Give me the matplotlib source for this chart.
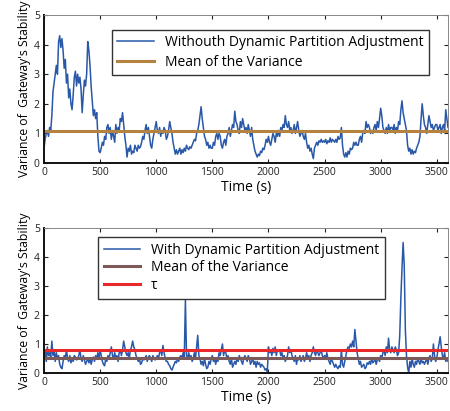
import numpy as np
import matplotlib
matplotlib.use("Agg")
import matplotlib.pyplot as plt

plt.rcParams['font.family'] = ['Open Sans', 'DejaVu Sans']

# sample times (s), one sample every 10 s
time_s = np.arange(0, 3601, 10)

# variance without dynamic partition adjustment
var_without = [
    0.5, 0.8, 1.0, 1.1, 0.9, 1.2, 1.1, 1.6, 2.4, 2.7,
    3.0, 3.3, 3.0, 4.1, 4.3, 3.9, 4.2, 3.8, 3.2, 3.5,
    2.7, 3.0, 2.2, 2.5, 2.0, 1.8, 2.3, 2.9, 3.1, 2.6,
    3.0, 2.7, 2.9, 2.5, 1.7, 2.3, 2.8, 2.6, 3.0, 4.1,
    3.8, 3.3, 2.6, 2.1, 1.6, 1.8, 1.5, 1.7, 0.9, 0.4,
    0.35, 0.5, 0.7, 0.6, 0.9, 0.8, 1.2, 1.3, 1.0, 1.2,
    0.8, 1.1, 0.9, 0.7, 1.3, 1.0, 1.2, 1.1, 1.5, 1.4,
    1.7, 1.3, 0.9, 0.6, 0.2, 0.5, 0.4, 0.6, 0.3, 0.4,
    0.35, 0.6, 0.5, 0.4, 0.6, 0.5, 0.55, 0.7, 0.9, 0.8,
    1.1, 1.3, 1.0, 1.2, 0.9, 0.6, 0.5, 0.8, 1.0, 1.2,
    1.4, 1.1, 1.0, 1.2, 0.9, 1.1, 1.0, 1.2, 1.1, 0.8,
    0.9, 1.1, 1.4, 1.2, 1.0, 0.7, 0.5, 0.3, 0.45, 0.3,
    0.4, 0.5, 0.3, 0.45, 0.35, 0.5, 0.4, 0.6, 0.5, 0.45,
    0.55, 0.5, 0.6, 0.7, 0.8, 0.75, 1.0, 1.1, 1.3, 1.6,
    1.9, 1.5, 1.2, 0.9, 0.8, 0.6, 0.7, 0.5, 0.6, 0.5,
    0.5, 0.7, 0.6, 0.9, 1.0, 0.8, 1.0, 0.9, 0.6, 0.5,
    0.7, 0.8, 0.6, 0.9, 1.0, 1.2, 0.9, 1.1, 1.3, 1.2,
    1.75, 1.4, 1.3, 1.1, 1.0, 1.4, 1.2, 1.5, 1.3, 1.1,
    1.2, 1.0, 1.3, 1.1, 0.9, 1.2, 0.8, 0.6, 0.4, 0.3,
    0.2, 0.3, 0.25, 0.4, 0.35, 0.5, 0.45, 0.6, 0.8, 0.7,
    0.9, 0.7, 0.6, 0.8, 1.0, 0.9, 0.7, 1.0, 0.9, 1.1,
    0.9, 1.2, 1.1, 1.3, 1.2, 1.6, 1.3, 1.2, 1.4, 1.1,
    1.2, 1.0, 1.1, 1.3, 1.0, 1.2, 1.4, 1.1, 0.9, 1.0,
    1.1, 0.9, 0.8, 1.0, 0.7, 0.5, 0.6, 0.4, 0.5, 0.3,
    0.15, 0.5, 0.6, 0.7, 0.6, 0.75, 0.7, 0.8, 0.7, 0.75,
    0.7, 0.8, 0.65, 0.75, 0.7, 0.85, 0.7, 0.8, 0.75, 0.7,
    0.8, 0.7, 0.9, 0.8, 0.85, 1.2, 0.6, 0.3, 0.2, 0.35,
    0.2, 0.4, 0.3, 0.5, 0.45, 0.5, 0.7, 0.6, 0.7, 0.6,
    0.6, 0.8, 0.9, 0.7, 1.0, 1.1, 1.0, 1.4, 1.2, 1.3,
    1.2, 1.0, 1.1, 1.0, 1.2, 1.3, 1.1, 1.4, 1.2, 1.5,
    1.85, 1.6, 1.2, 1.1, 1.0, 1.2, 1.0, 1.3, 1.1, 1.2,
    1.2, 1.1, 1.3, 1.0, 1.2, 1.1, 1.4, 1.3, 1.8, 2.1,
    1.7, 1.5, 1.3, 1.1, 0.6, 0.4, 0.5, 0.3, 0.45, 0.3,
    0.4, 0.35, 0.5, 0.6, 0.7, 0.9, 1.5, 2.0, 1.6, 1.3,
    1.2, 1.0, 1.3, 1.6, 1.4, 1.2, 1.3, 1.1, 1.2, 1.3,
    1.3, 1.1, 1.2, 1.3, 1.0, 1.2, 1.3, 1.1, 1.8, 1.5,
    1.2,
]

# variance with dynamic partition adjustment
var_with = [
    0.5, 0.8, 0.4, 0.9, 0.6, 0.7, 0.5, 1.1, 0.6, 0.8,
    0.4, 0.7, 0.5, 0.6, 0.3, 0.2, 0.15, 0.4, 0.6, 0.5,
    0.8, 0.5, 0.4, 0.6, 0.35, 0.5, 0.4, 0.6, 0.55, 0.45,
    0.5, 0.6, 0.8, 0.5, 0.4, 0.6, 0.45, 0.3, 0.4, 0.5,
    0.35, 0.5, 0.3, 0.45, 0.55, 0.4, 0.6, 0.5, 0.7, 0.5,
    0.8, 0.6, 0.4, 0.3, 0.25, 0.5, 0.4, 0.6, 0.5, 0.7,
    0.9, 0.6, 0.5, 0.7, 0.5, 0.6, 0.4, 0.7, 0.8, 0.6,
    0.8, 1.1, 0.9, 0.7, 0.6, 0.7, 0.5, 0.8, 0.9, 1.1,
    0.9, 0.8, 0.6, 0.5, 0.4, 0.5, 0.3, 0.35, 0.5, 0.45,
    0.5, 0.6, 0.4, 0.55, 0.6, 0.5, 0.4, 0.6, 0.5, 0.45,
    0.5, 0.6, 0.5, 0.7, 0.8, 0.6, 0.95, 0.7, 0.5, 0.4,
    0.4, 0.3, 0.25, 0.15, 0.1, 0.2, 0.3, 0.4, 0.35, 0.5,
    0.4, 0.55, 0.6, 0.5, 0.7, 0.55, 2.5, 0.6, 0.5, 0.7,
    0.5, 0.6, 0.4, 0.5, 0.7, 0.5, 0.9, 1.3, 0.6, 0.5,
    0.3, 0.4, 0.25, 0.5, 0.3, 0.15, 0.2, 0.4, 0.3, 0.5,
    0.6, 0.4, 0.5, 0.3, 0.5, 0.4, 0.7, 0.6, 0.8, 1.0,
    0.6, 0.8, 0.7, 0.5, 0.6, 0.4, 0.3, 0.5, 0.2, 0.3,
    0.4, 0.3, 0.5, 0.4, 0.6, 0.5, 0.4, 0.3, 0.5, 0.6,
    0.5, 0.4, 0.6, 0.5, 0.3, 0.4, 0.5, 0.3, 0.4, 0.2,
    0.4, 0.3, 0.35, 0.2, 0.3, 0.25, 0.2, 0.1, 0.15, 0.05,
    0.9, 0.7, 0.8, 0.6, 0.85, 0.7, 0.9, 0.6, 0.8, 0.75,
    0.8, 0.6, 0.7, 0.5, 0.6, 0.4, 0.5, 0.6, 0.9, 0.7,
    0.8, 0.6, 0.5, 0.4, 0.6, 0.3, 0.5, 0.45, 0.6, 0.4,
    0.5, 0.6, 0.4, 0.5, 0.7, 0.5, 0.6, 0.4, 0.6, 0.7,
    0.9, 0.7, 0.6, 0.8, 0.7, 0.6, 0.7, 0.8, 0.6, 0.5,
    0.6, 0.5, 0.7, 0.5, 0.4, 0.3, 0.5, 0.4, 0.3, 0.2,
    0.3, 0.2, 0.15, 0.25, 0.2, 0.8, 0.3, 0.2, 0.4, 0.6,
    0.8, 0.9, 0.85, 1.0, 0.9, 1.1, 0.9, 1.5, 1.1, 0.7,
    0.5, 0.3, 0.4, 0.2, 0.25, 0.3, 0.15, 0.2, 0.35, 0.3,
    0.4, 0.3, 0.5, 0.35, 0.4, 0.5, 0.3, 0.45, 0.5, 0.4,
    0.6, 0.5, 0.7, 0.8, 0.6, 0.9, 0.7, 1.2, 0.8, 0.7,
    0.9, 0.8, 0.7, 0.9, 0.8, 0.6, 0.7, 1.3, 2.6, 3.6,
    4.5, 3.7, 1.5, 0.6, 0.2, 0.0, 0.4, 0.2, 0.5, 0.3,
    0.2, 0.4, 0.3, 0.5, 0.4, 0.3, 0.5, 0.35, 0.4, 0.3,
    0.4, 0.5, 0.3, 0.5, 0.6, 0.4, 0.5, 1.0, 0.6, 0.4,
    0.5, 0.8, 1.0, 1.25, 0.9, 0.6, 0.5, 0.7, 0.4, 0.5,
    0.4,
]

mean_without = 1.09
mean_with = 0.52
tau = 0.8

x_ticks = [0, 500, 1000, 1500, 2000, 2500, 3000, 3500]
y_ticks = [0, 1, 2, 3, 4, 5]

blue = '#2A58A8'

W, H = 450, 411
fig = plt.figure(figsize=(W / 100, H / 100), dpi=100)


def ax_rect(left, top, right, bottom):
    return [left / W, 1 - bottom / H, (right - left) / W, (bottom - top) / H]


def style_axes(ax):
    ax.set_xlim(0, 3600)
    ax.set_ylim(0, 5)
    ax.set_xticks(x_ticks)
    ax.set_yticks(y_ticks)
    ax.tick_params(direction='in', length=3, width=0.8, top=True, right=True,
                   labelsize=7.5, pad=3, colors='#222222')
    for side in ('left', 'bottom'):
        ax.spines[side].set_linewidth(1.4)
        ax.spines[side].set_color('#111111')
    for side in ('top', 'right'):
        ax.spines[side].set_linewidth(0.7)
        ax.spines[side].set_color('#888888')
    ax.set_xlabel('Time (s)', fontsize=10, labelpad=1)
    ax.set_ylabel("Variance of  Gateway's Stability", fontsize=8.8, labelpad=2)


ax1 = fig.add_axes(ax_rect(44, 15, 448, 163))
ax1.plot(time_s, var_without, color=blue, lw=1.1,
         label='Withouth Dynamic Partition Adjustment')
ax1.axhline(mean_without, color='#B5823F', lw=2.2, label='Mean of the Variance')
style_axes(ax1)
leg1 = ax1.legend(loc='upper left', bbox_to_anchor=(0.168, 0.9), fontsize=10,
                  frameon=True, fancybox=False, edgecolor='black',
                  handlelength=2.6, borderpad=0.4, labelspacing=0.3,
                  handletextpad=0.8, borderaxespad=0)
leg1.get_frame().set_linewidth(1.0)

ax2 = fig.add_axes(ax_rect(44, 228, 448, 373))
ax2.plot(time_s, var_with, color=blue, lw=1.1,
         label='With Dynamic Partition Adjustment')
ax2.axhline(mean_with, color='#7D5A5A', lw=2.2, label='Mean of the Variance')
ax2.axhline(tau, color='#E8282B', lw=2.2, label='τ')
style_axes(ax2)
leg2 = ax2.legend(loc='upper left', bbox_to_anchor=(0.134, 0.938), fontsize=10,
                  frameon=True, fancybox=False, edgecolor='black',
                  handlelength=2.6, borderpad=0.4, labelspacing=0.2,
                  handletextpad=0.8, borderaxespad=0)
leg2.get_frame().set_linewidth(1.0)

fig.savefig('out.png', dpi=100)
